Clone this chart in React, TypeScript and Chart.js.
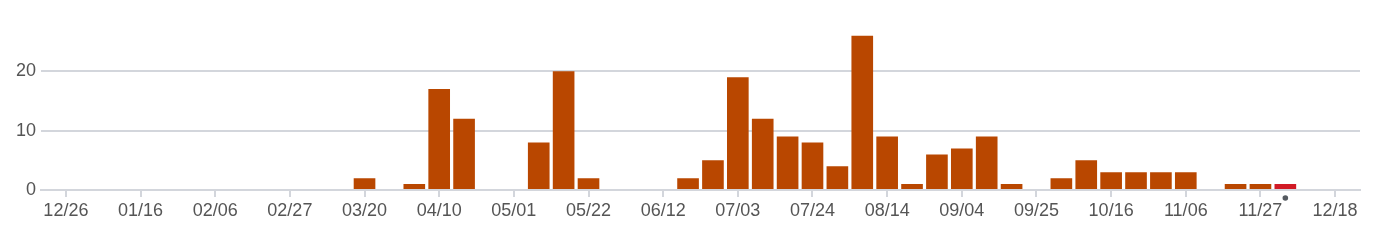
import React, { useEffect, useRef } from "react";
import { Chart, registerables } from "chart.js";

Chart.register(...registerables);

// Weekly categories (week starting dates); first and last are padding weeks
const weekLabels: string[] = [
  "12/19", "12/26", "01/02", "01/09", "01/16", "01/23", "01/30", "02/06", "02/13", "02/20",
  "02/27", "03/06", "03/13", "03/20", "03/27", "04/03", "04/10", "04/17", "04/24", "05/01",
  "05/08", "05/15", "05/22", "05/29", "06/05", "06/12", "06/19", "06/26", "07/03", "07/10",
  "07/17", "07/24", "07/31", "08/07", "08/14", "08/21", "08/28", "09/04", "09/11", "09/18",
  "09/25", "10/02", "10/09", "10/16", "10/23", "10/30", "11/06", "11/13", "11/20", "11/27",
  "12/04", "12/11", "12/18", "12/25",
];

// Weekly counts, one per week label
const weeklyCounts: number[] = [
  0, 0, 0, 0, 0, 0, 0, 0, 0, 0,
  0, 0, 0, 2, 0, 1, 17, 12, 0, 0,
  8, 20, 2, 0, 0, 0, 2, 5, 19, 12,
  9, 8, 4, 26, 9, 1, 6, 7, 9, 1,
  0, 2, 5, 3, 3, 3, 3, 0, 1, 1,
  1, 0, 0, 0,
];

// Tick labels shown on the x axis
const shownTickLabels: string[] = [
  "12/26", "01/16", "02/06", "02/27", "03/20", "04/10", "05/01", "05/22", "06/12",
  "07/03", "07/24", "08/14", "09/04", "09/25", "10/16", "11/06", "11/27", "12/18",
];

const yTickValues: number[] = [0, 10, 20];
const currentWeek = "12/04";

const BAR_COLOR = "#b94700";
const CURRENT_COLOR = "#d11a25";
const GRID_COLOR = "#d3d6dc";
const TEXT_COLOR = "#555555";
const FONT_FAMILY = "'Liberation Sans', Arial, sans-serif";

const currentMarkerPlugin = {
  id: "currentMarker",
  afterDraw(chart: any) {
    const idx = weekLabels.indexOf(currentWeek);
    if (idx < 0) return;
    const x = chart.scales.x.getPixelForValue(idx);
    const y = chart.scales.y.getPixelForValue(0) + 8;
    const ctx = chart.ctx;
    ctx.save();
    ctx.fillStyle = "#555a60";
    ctx.beginPath();
    ctx.arc(x, y, 2.8, 0, Math.PI * 2);
    ctx.fill();
    ctx.restore();
  },
};

export default function App() {
  const canvasRef = useRef<HTMLCanvasElement | null>(null);

  useEffect(() => {
    if (!canvasRef.current) return;
    const currentIdx = weekLabels.indexOf(currentWeek);
    const chart = new Chart(canvasRef.current, {
      type: "bar",
      data: {
        labels: weekLabels,
        datasets: [
          {
            data: weeklyCounts,
            backgroundColor: (c: any) => (c.dataIndex === currentIdx ? CURRENT_COLOR : BAR_COLOR),
            borderWidth: 0,
            barPercentage: 0.87,
            categoryPercentage: 1,
          },
        ],
      },
      options: {
        animation: false,
        responsive: true,
        maintainAspectRatio: false,
        layout: { padding: { top: 15, right: 32, left: 0, bottom: 0 } },
        plugins: {
          legend: { display: false },
          tooltip: { enabled: false },
        },
        scales: {
          x: {
            type: "category",
            offset: false,
            afterBuildTicks: (scale: any) => {
              scale.ticks = scale.ticks.filter((t: any) =>
                shownTickLabels.includes(weekLabels[t.value])
              );
            },
            afterFit: (scale: any) => {
              scale.height = 44;
            },
            grid: {
              display: true,
              drawOnChartArea: false,
              drawTicks: true,
              tickLength: 7,
              color: GRID_COLOR,
              lineWidth: 2,
              offset: false,
            },
            border: { display: true, color: GRID_COLOR, width: 2 },
            ticks: {
              autoSkip: false,
              maxRotation: 0,
              padding: 3,
              color: TEXT_COLOR,
              font: { family: FONT_FAMILY, size: 18 },
              callback: function (this: any, value: any) {
                return weekLabels[value as number];
              },
            },
          },
          y: {
            min: 0,
            max: 28,
            afterBuildTicks: (scale: any) => {
              scale.ticks = yTickValues.map((v) => ({ value: v }));
            },
            afterFit: (scale: any) => {
              scale.width = 33;
            },
            grid: {
              color: GRID_COLOR,
              lineWidth: 2,
              drawTicks: false,
            },
            border: { display: false },
            ticks: {
              padding: 5,
              color: TEXT_COLOR,
              font: { family: FONT_FAMILY, size: 18 },
            },
          },
        },
      },
      plugins: [currentMarkerPlugin],
    });
    return () => chart.destroy();
  }, []);

  return (
    <div style={{ width: 1384, height: 226, position: "relative" }}>
      <canvas ref={canvasRef} />
    </div>
  );
}
